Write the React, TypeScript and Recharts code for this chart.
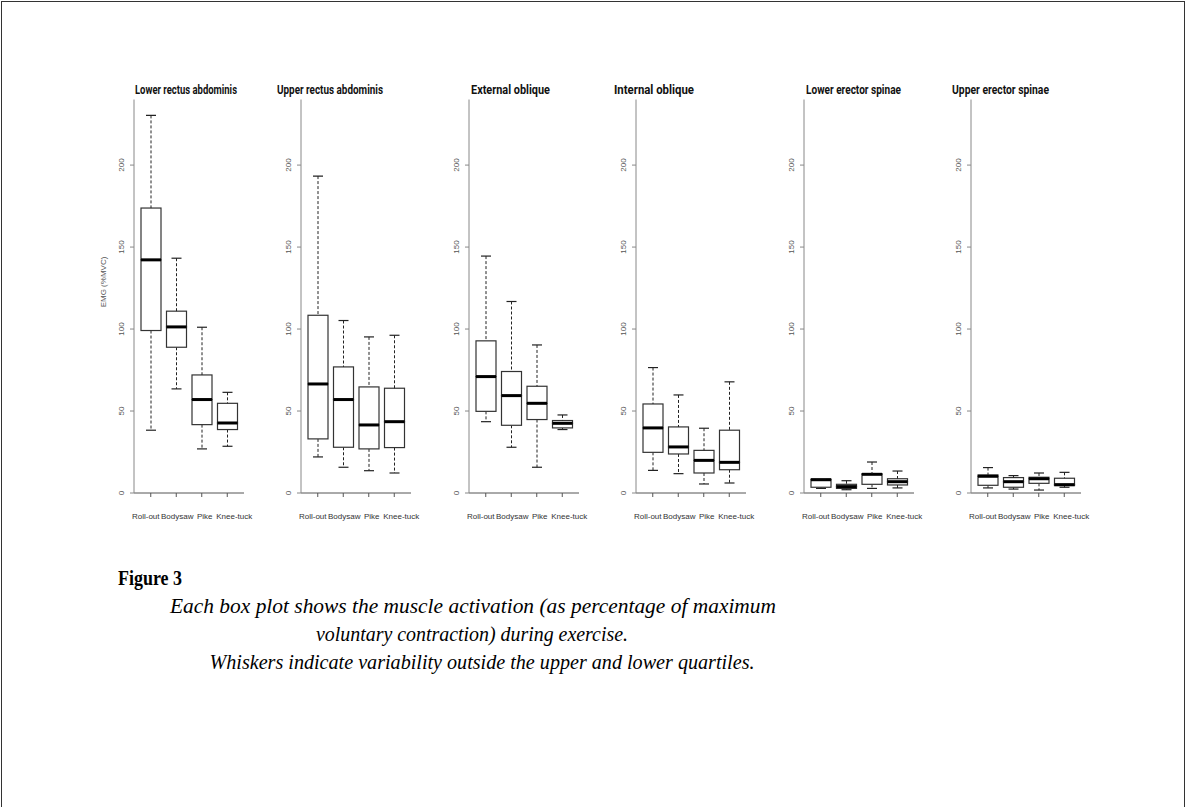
import React from "react";
import { BarChart, Bar, XAxis, YAxis } from "recharts";

const EXERCISES = ["Roll-out", "Bodysaw", "Pike", "Knee-tuck"];

const MUSCLES = [
  "Lower rectus abdominis",
  "Upper rectus abdominis",
  "External oblique",
  "Internal oblique",
  "Lower erector spinae",
  "Upper erector spinae",
];

// one row per exercise: [min, q1, median, q3, max]  (%MVC)
const lowerRectusAbdominis = [
  [38.3, 99.1, 142.2, 173.8, 230.3],
  [63.5, 88.9, 101.3, 110.9, 143.2],
  [26.9, 41.7, 57.0, 72.0, 101.1],
  [28.5, 38.7, 42.7, 54.7, 61.4],
];
const upperRectusAbdominis = [
  [22.0, 33.0, 66.5, 108.4, 193.3],
  [15.7, 27.9, 57.0, 76.9, 105.2],
  [13.6, 26.9, 41.5, 64.7, 95.2],
  [12.2, 27.7, 43.5, 63.9, 96.2],
];
const externalOblique = [
  [43.5, 49.8, 71.0, 92.8, 144.5],
  [27.9, 41.3, 59.4, 74.1, 116.8],
  [15.7, 44.8, 54.7, 65.1, 90.3],
  [38.7, 39.7, 42.5, 44.2, 47.6],
];
const internalOblique = [
  [13.8, 24.8, 39.7, 54.3, 76.5],
  [11.8, 23.8, 28.1, 40.3, 59.8],
  [5.5, 12.2, 19.9, 26.0, 39.5],
  [6.1, 14.2, 18.7, 38.3, 67.8],
];
const lowerErectorSpinae = [
  [2.8, 3.5, 8.1, 8.5, 8.8],
  [2.0, 2.8, 3.9, 5.3, 7.5],
  [2.8, 5.3, 11.4, 11.8, 18.9],
  [3.1, 4.9, 6.9, 8.7, 13.4],
];
const upperErectorSpinae = [
  [3.1, 4.7, 10.2, 11.0, 15.5],
  [2.4, 3.5, 6.9, 9.4, 10.6],
  [1.8, 5.9, 8.7, 9.6, 12.2],
  [3.5, 4.5, 5.1, 9.0, 12.6],
];

const PANELS = [
  lowerRectusAbdominis,
  upperRectusAbdominis,
  externalOblique,
  internalOblique,
  lowerErectorSpinae,
  upperErectorSpinae,
];

const Y_TICKS = [0, 50, 100, 150, 200];

// layout
const AXIS_X = [134, 301.4, 468.8, 636.2, 803.6, 971];
const TITLE_X = [135, 277, 471, 614, 806, 952];
const TITLE_WIDTH = [102, 106, 79, 80, 95, 97];
const LABEL_SHIFT = [-5, 1, 3, 7];
const CHART_TOP = 80;

const toRows = (stats: number[][]) =>
  stats.map(([min, q1, med, q3, max], i) => ({
    name: EXERCISES[i],
    base: min,
    lowWhisker: q1 - min,
    lowBox: med - q1,
    highBox: q3 - med,
    highWhisker: max - q3,
  }));

const INK = "#222";

const Hidden = () => <g />;

const LowWhisker = (props: any) => {
  const { x, y, width, height } = props;
  const cx = x + width / 2;
  const cap = width / 4;
  return (
    <g>
      <line x1={cx} x2={cx} y1={y} y2={y + height} stroke={INK} strokeWidth={1} strokeDasharray="3 2" />
      <line x1={cx - cap} x2={cx + cap} y1={y + height} y2={y + height} stroke={INK} strokeWidth={1.2} />
    </g>
  );
};

const HighWhisker = (props: any) => {
  const { x, y, width, height } = props;
  const cx = x + width / 2;
  const cap = width / 4;
  return (
    <g>
      <line x1={cx} x2={cx} y1={y} y2={y + height} stroke={INK} strokeWidth={1} strokeDasharray="3 2" />
      <line x1={cx - cap} x2={cx + cap} y1={y} y2={y} stroke={INK} strokeWidth={1.2} />
    </g>
  );
};

const LowBox = (props: any) => {
  const { x, y, width, height } = props;
  return <rect x={x} y={y} width={width} height={height} fill="#fff" stroke="#333" strokeWidth={1.2} />;
};

const HighBox = (props: any) => {
  const { x, y, width, height } = props;
  return (
    <g>
      <rect x={x} y={y} width={width} height={height} fill="#fff" stroke="#333" strokeWidth={1.2} />
      <line x1={x} x2={x + width} y1={y + height} y2={y + height} stroke="#000" strokeWidth={3} />
    </g>
  );
};

const YTick = (props: any) => {
  const { x, y, payload } = props;
  return (
    <text
      x={x}
      y={y}
      transform={`rotate(-90 ${x} ${y})`}
      textAnchor="middle"
      fontFamily="'Liberation Sans', Arial, sans-serif"
      fontSize={8}
      fill="#555"
    >
      {payload.value}
    </text>
  );
};

const XTick = (props: any) => {
  const { x, y, payload, index } = props;
  return (
    <text
      x={x}
      y={y}
      dx={LABEL_SHIFT[index] ?? 0}
      dy={20}
      textAnchor="middle"
      fontFamily="'Liberation Sans', Arial, sans-serif"
      fontSize={8}
      fill="#333"
    >
      {payload.value}
    </text>
  );
};

const Panel = ({ stats, left }: { stats: number[][]; left: number }) => (
  <div style={{ position: "absolute", left: left - 40, top: CHART_TOP }}>
    <BarChart
      width={167}
      height={443}
      data={toRows(stats)}
      margin={{ top: 19.5, right: 17, left: 0, bottom: 0 }}
    >
      <XAxis
        dataKey="name"
        padding={{ left: 4, right: 4 }}
        interval={0}
        height={30}
        tickSize={4}
        tickMargin={2}
        stroke="#555"
        tick={<XTick />}
      />
      <YAxis
        type="number"
        domain={[0, 240]}
        ticks={Y_TICKS}
        allowDataOverflow
        width={40}
        tickSize={4}
        tickMargin={6}
        stroke="#888"
        tick={<YTick />}
      />
      <Bar dataKey="base" stackId="a" barSize={20} shape={<Hidden />} isAnimationActive={false} />
      <Bar dataKey="lowWhisker" stackId="a" barSize={20} shape={<LowWhisker />} isAnimationActive={false} />
      <Bar dataKey="lowBox" stackId="a" barSize={20} shape={<LowBox />} isAnimationActive={false} />
      <Bar dataKey="highBox" stackId="a" barSize={20} shape={<HighBox />} isAnimationActive={false} />
      <Bar dataKey="highWhisker" stackId="a" barSize={20} shape={<HighWhisker />} isAnimationActive={false} />
    </BarChart>
  </div>
);

export default function App() {
  return (
    <div
      style={{
        position: "absolute",
        left: 0,
        top: 0,
        width: 1186,
        height: 807,
        overflow: "hidden",
        background: "#fff",
      }}
    >
      <div
        style={{
          position: "absolute",
          left: 1,
          top: 1,
          width: 1182,
          height: 830,
          border: "1px solid #333",
        }}
      />
      {PANELS.map((stats, i) => (
        <Panel key={MUSCLES[i]} stats={stats} left={AXIS_X[i]} />
      ))}
      <svg
        width={1186}
        height={807}
        style={{ position: "absolute", left: 0, top: 0, pointerEvents: "none" }}
      >
        {MUSCLES.map((m, i) => (
          <text
            key={m}
            x={TITLE_X[i]}
            y={93.5}
            fontFamily="Roboto, 'Liberation Sans', sans-serif"
            fontWeight="bold"
            fontSize={12.5}
            fill="#111"
            textLength={TITLE_WIDTH[i]}
            lengthAdjust="spacingAndGlyphs"
          >
            {m}
          </text>
        ))}
        <text
          x={106}
          y={282}
          transform="rotate(-90 106 282)"
          textAnchor="middle"
          fontFamily="'Liberation Sans', Arial, sans-serif"
          fontSize={8}
          fill="#555"
        >
          EMG (%MVC)
        </text>
        <text
          x={118}
          y={585}
          fontFamily="'Liberation Serif', serif"
          fontWeight="bold"
          fontSize={21}
          fill="#000"
          textLength={64}
          lengthAdjust="spacingAndGlyphs"
        >
          Figure 3
        </text>
        <g fontFamily="'Liberation Serif', serif" fontStyle="italic" fontSize={21.5} fill="#000" textAnchor="middle">
          <text x={473} y={613} textLength={606} lengthAdjust="spacingAndGlyphs">
            Each box plot shows the muscle activation (as percentage of maximum
          </text>
          <text x={472} y={641} textLength={312} lengthAdjust="spacingAndGlyphs">
            voluntary contraction) during exercise.
          </text>
          <text x={482} y={669} textLength={545} lengthAdjust="spacingAndGlyphs">
            Whiskers indicate variability outside the upper and lower quartiles.
          </text>
        </g>
      </svg>
    </div>
  );
}
